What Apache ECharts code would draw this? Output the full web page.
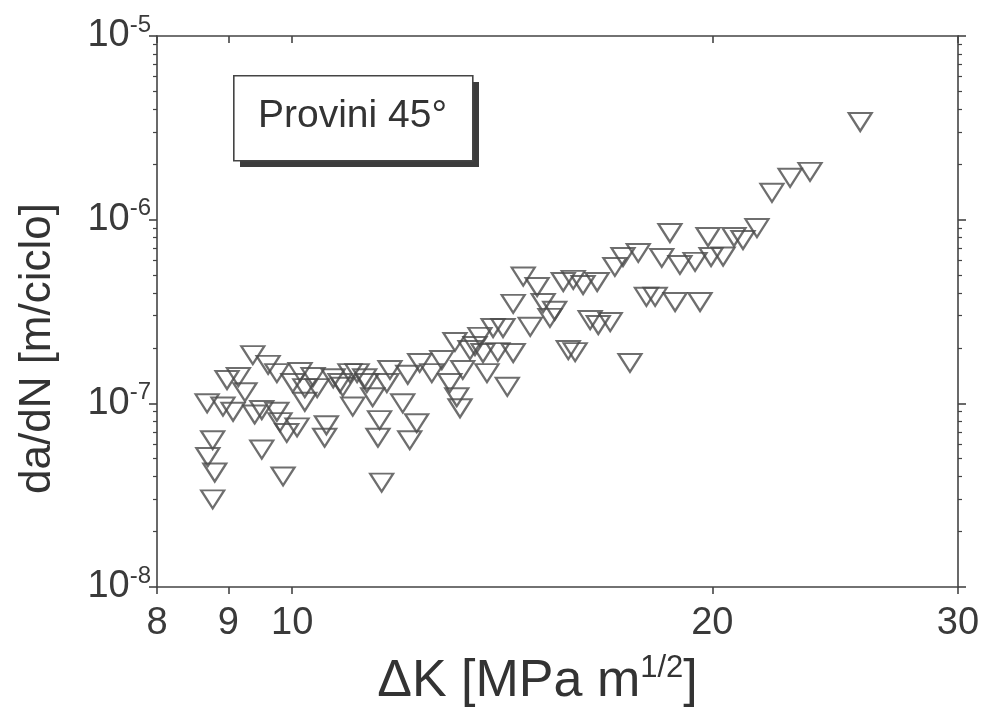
<!DOCTYPE html>
<html>
<head>
<meta charset="utf-8">
<script src="https://cdn.jsdelivr.net/npm/echarts@6/dist/echarts.min.js"></script>
<style>
  html, body { margin: 0; padding: 0; background: #ffffff; }
  #chart { width: 981px; height: 715px; }
</style>
</head>
<body>
<div id="chart"></div>
<script>
// Dati (provini 45°)
const deltaK = [
  9.37, 9.61, 9.75, 8.98, 9.15, 9.25, 8.69, 8.92, 9.07, 9.40,
  9.75, 9.80, 9.91, 10.08, 10.01, 10.21, 10.35, 10.42, 10.21, 10.58,
  10.55, 10.70, 10.87, 11.00, 11.05, 11.31, 11.42, 11.55, 11.52, 11.69,
  8.77, 8.70, 8.80, 8.77, 9.51, 9.85, 11.59, 10.82, 11.13, 11.75,
  12.10, 12.00, 12.28, 12.14, 12.34, 12.59, 12.80, 12.97, 13.08, 13.25,
  13.12, 13.19, 13.41, 13.63, 13.70, 13.79, 13.93, 14.04, 14.16, 14.26,
  14.40, 14.40, 14.64, 14.81, 14.98, 15.13, 15.42, 15.30, 15.64, 15.90,
  16.16, 16.54, 15.77, 15.95, 16.35, 16.57, 16.90, 17.03, 17.26, 17.70,
  17.46, 17.94, 18.20, 18.40, 18.65, 18.81, 18.96, 19.44, 19.60, 19.86,
  19.96, 20.36, 20.73, 21.04, 21.53, 22.07, 22.74, 23.50, 25.53,
  10.13, 11.27, 13.52, 9.51
];
const dadN = [
  1.83e-7, 1.62e-7, 1.46e-7, 1.34e-7, 1.39e-7, 1.15e-7, 1.00e-7, 9.6e-8, 9.0e-8, 8.7e-8,
  9.0e-8, 7.9e-8, 6.9e-8, 7.4e-8, 1.29e-7, 1.21e-7, 1.39e-7, 1.21e-7, 1.02e-7, 7.6e-8,
  6.5e-8, 1.37e-7, 1.23e-7, 1.46e-7, 9.6e-8, 1.29e-7, 1.08e-7, 8.1e-8, 6.5e-8, 1.29e-7,
  6.3e-8, 5.1e-8, 4.2e-8, 3.0e-8, 5.6e-8, 4.0e-8, 3.7e-8, 1.29e-7, 1.46e-7, 1.52e-7,
  1.43e-7, 1.00e-7, 7.8e-8, 6.3e-8, 1.66e-7, 1.46e-7, 1.72e-7, 1.29e-7, 2.16e-7, 1.52e-7,
  1.08e-7, 9.4e-8, 1.95e-7, 2.30e-7, 1.88e-7, 1.46e-7, 2.57e-7, 1.90e-7, 2.57e-7, 1.23e-7,
  3.48e-7, 1.88e-7, 4.9e-7, 2.61e-7, 4.3e-7, 3.52e-7, 3.19e-7, 2.92e-7, 4.58e-7, 4.70e-7,
  4.41e-7, 4.58e-7, 1.95e-7, 1.90e-7, 2.84e-7, 2.67e-7, 2.77e-7, 5.53e-7, 6.26e-7, 6.59e-7,
  1.66e-7, 3.80e-7, 3.80e-7, 6.19e-7, 8.46e-7, 3.56e-7, 5.67e-7, 5.89e-7, 3.56e-7, 8.05e-7,
  6.26e-7, 6.3e-7, 8.05e-7, 7.75e-7, 9.0e-7, 1.40e-6, 1.69e-6, 1.82e-6, 3.40e-6,
  1.48e-7, 1.37e-7, 2.05e-7, 9.2e-8
];
const xTicks = [8, 9, 10, 20, 30];
const yMajorTicks = [1e-8, 1e-7, 1e-6, 1e-5];
const yMinorTicks = [
  2e-8, 3e-8, 4e-8, 5e-8, 6e-8, 7e-8, 8e-8, 9e-8,
  2e-7, 3e-7, 4e-7, 5e-7, 6e-7, 7e-7, 8e-7, 9e-7,
  2e-6, 3e-6, 4e-6, 5e-6, 6e-6, 7e-6, 8e-6, 9e-6
];
const boxLabel = 'Provini 45°';

const chart = echarts.init(document.getElementById('chart'));

const ink = '#444444';
const font = 'Liberation Sans';
const lineStyle = { color: ink, width: 1.6 };

const points = deltaK.map((k, i) => [k, dadN[i]]);

function expLabel(v) {
  const e = Math.round(Math.log10(v));
  return '10{sup|' + e + '}';
}

const xBase = {
  type: 'log', logBase: 10, min: 8, max: 30,
  splitLine: { show: false },
  axisLine: { show: true, lineStyle: lineStyle }
};
const yBase = {
  type: 'log', logBase: 10, min: 1e-8, max: 1e-5,
  splitLine: { show: false },
  axisLine: { show: true, lineStyle: lineStyle }
};

const option = {
  backgroundColor: '#ffffff',
  animation: false,
  grid: { left: 157, right: 23, top: 36, bottom: 128, containLabel: false, outerBoundsMode: 'none' },
  xAxis: [
    Object.assign({}, xBase, {
      position: 'bottom',
      name: 'ΔK [MPa m{sup|1/2}]',
      nameLocation: 'middle',
      nameGap: 66,
      nameTextStyle: {
        fontFamily: font, fontSize: 52, color: '#333',
        padding: [0, 40, 0, 0],
        rich: { sup: { fontFamily: font, fontSize: 31, padding: [0, 0, 27, 0], color: '#333' } }
      },
      axisTick: { show: true, inside: false, length: 7, lineStyle: lineStyle, customValues: xTicks },
      axisLabel: { fontFamily: font, fontSize: 38, color: '#3a3a3a', margin: 18, customValues: xTicks, formatter: v => String(Math.round(v)) }
    }),
    Object.assign({}, xBase, {
      position: 'top',
      axisTick: { show: true, inside: true, length: 7, lineStyle: lineStyle, customValues: xTicks },
      axisLabel: { show: false }
    })
  ],
  yAxis: [
    Object.assign({}, yBase, {
      position: 'left',
      name: 'da/dN [m/ciclo]',
      nameLocation: 'middle',
      nameGap: 97,
      nameTextStyle: { fontFamily: font, fontSize: 44, color: '#333', padding: [0, 74, 0, 0] },
      axisTick: { show: true, inside: false, length: 8, lineStyle: lineStyle, customValues: yMajorTicks },
      axisLabel: {
        fontFamily: font, fontSize: 38, color: '#3a3a3a', margin: 6,
        customValues: yMajorTicks,
        formatter: expLabel,
        rich: { sup: { fontFamily: font, fontSize: 24, color: '#3a3a3a', padding: [0, 0, 22, 0] } }
      }
    }),
    Object.assign({}, yBase, {
      position: 'right',
      axisTick: { show: true, inside: false, length: 8, lineStyle: lineStyle, customValues: yMajorTicks },
      axisLabel: { show: false }
    }),
    // tacche secondarie (lato sinistro e destro)
    Object.assign({}, yBase, {
      position: 'right',
      axisLine: { show: false },
      axisTick: { show: true, inside: false, length: 4, lineStyle: { color: ink, width: 1.2 }, customValues: yMinorTicks },
      axisLabel: { show: false }
    }),
    Object.assign({}, yBase, {
      position: 'left',
      axisLine: { show: false },
      axisTick: { show: true, inside: false, length: 4, lineStyle: { color: ink, width: 1.2 }, customValues: yMinorTicks },
      axisLabel: { show: false }
    })
  ],
  graphic: [
    { type: 'rect', left: 240, top: 82, shape: { width: 239, height: 85 }, style: { fill: '#3c3c3c' }, z: 10 },
    { type: 'rect', left: 233, top: 75, shape: { width: 239, height: 85 }, style: { fill: '#ffffff', stroke: ink, lineWidth: 1.6 }, z: 11 },
    { type: 'text', left: 258, top: 97, style: { text: boxLabel, font: '39px "Liberation Sans"', fill: '#333' }, z: 12 }
  ],
  series: [{
    type: 'scatter',
    data: points,
    symbol: 'triangle',
    symbolRotate: 180,
    symbolSize: [23, 18],
    itemStyle: { color: 'rgba(0,0,0,0)', borderColor: '#4a4a4a', borderWidth: 2.2 },
    emphasis: { disabled: true }
  }]
};

chart.setOption(option);
window.addEventListener('resize', () => chart.resize());
</script>
</body>
</html>
